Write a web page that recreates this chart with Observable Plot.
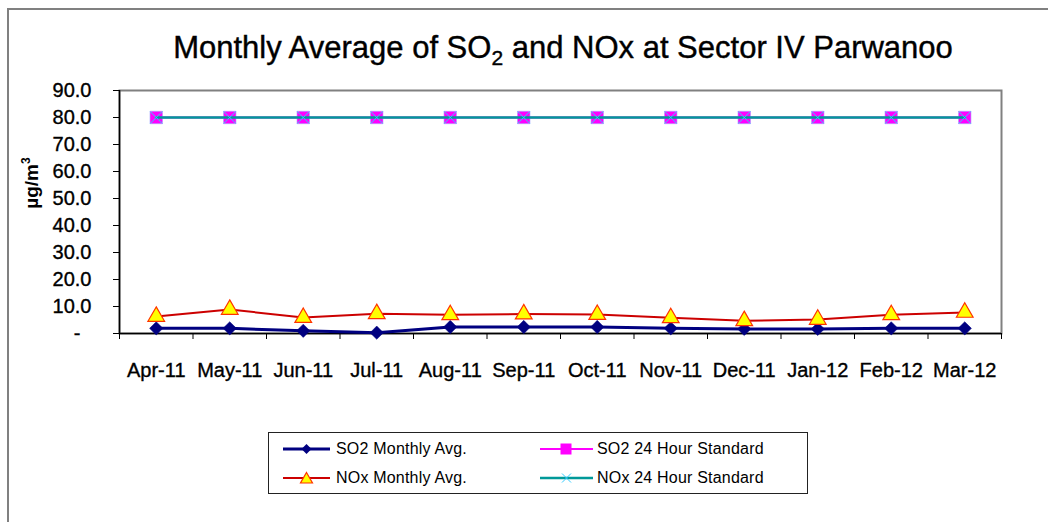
<!DOCTYPE html>
<html><head><meta charset="utf-8">
<script src="https://cdn.jsdelivr.net/npm/d3@7"></script>
<script src="https://cdn.jsdelivr.net/npm/@observablehq/plot@0.6"></script>
<style>
body{margin:0;background:#fff;font-family:"Liberation Sans",Arial,sans-serif;}
#wrap{position:relative;width:1048px;height:522px;overflow:hidden;background:#fff;}
#border{position:absolute;left:7px;top:8px;width:1200px;height:800px;border-left:2px solid #808080;border-top:2px solid #808080;}
#chart{position:absolute;left:0;top:0;}
#chart svg text{stroke:#000;stroke-width:0.35px;}
#title{position:absolute;left:0;top:32px;width:1126px;text-align:center;font-size:31px;line-height:31px;color:#000;white-space:nowrap;-webkit-text-stroke:0.4px #000;}
#title sub{font-size:21px;vertical-align:-7px;line-height:0;}
#ylab{position:absolute;left:-18px;top:172px;width:100px;height:22px;line-height:22px;text-align:center;font-size:19px;font-weight:bold;transform:rotate(-90deg);transform-origin:50% 50%;white-space:nowrap;}
#ylab sup{font-size:12px;line-height:0;vertical-align:8px;}
#legend{position:absolute;left:268px;top:432px;width:538px;height:60px;border:1px solid #222;background:#fff;}
.li{position:absolute;font-size:16px;line-height:20px;white-space:nowrap;color:#000;letter-spacing:0.2px;}
.ls{position:absolute;}
</style>
</head><body>
<div id="wrap">
  <div id="border"></div>
  <div id="chart"></div>
  <div id="title">Monthly Average of SO<sub>2</sub> and NOx at Sector IV Parwanoo</div>
  <div id="ylab">µg/m<sup>3</sup></div>
  <div id="legend"></div>
</div>
<script>
const months = ["Apr-11","May-11","Jun-11","Jul-11","Aug-11","Sep-11","Oct-11","Nov-11","Dec-11","Jan-12","Feb-12","Mar-12"];
const so2Avg = [1.9, 1.9, 1.0, 0.3, 2.4, 2.4, 2.4, 1.9, 1.7, 1.7, 1.9, 1.9];
const noxAvg = [6.3, 8.9, 5.9, 7.3, 6.9, 7.2, 7.0, 5.8, 4.7, 5.2, 6.9, 7.8];
const so2Std = [80, 80, 80, 80, 80, 80, 80, 80, 80, 80, 80, 80];
const noxStd = [80, 80, 80, 80, 80, 80, 80, 80, 80, 80, 80, 80];
const yTicks = [0, 10, 20, 30, 40, 50, 60, 70, 80, 90];
const seriesNames = ["SO2 Monthly Avg.", "NOx Monthly Avg.", "SO2 24 Hour Standard", "NOx 24 Hour Standard"];

const idx = d3.range(months.length);
const rows = idx.map(i => ({i, so2: so2Avg[i], nox: noxAvg[i], so2s: so2Std[i], noxs: noxStd[i]}));
const bounds = d3.range(months.length + 1).map(i => i - 0.5);

const plot = Plot.plot({
  width: 1048, height: 390,
  marginTop: 90, marginBottom: 57, marginLeft: 119, marginRight: 47,
  style: {background: "transparent", color: "#000", fontFamily: "'Liberation Sans', Arial, sans-serif", overflow: "visible"},
  x: {type: "linear", domain: [-0.5, months.length - 0.5]},
  y: {domain: [0, 90]},
  marks: [
    Plot.frame({stroke: "#808080", strokeWidth: 2}),
    Plot.ruleY([0], {stroke: "#000", strokeWidth: 1.5}),
    Plot.ruleX([-0.5], {stroke: "#000", strokeWidth: 1.5}),
    Plot.axisY({ticks: yTicks, tickSize: 6, tickPadding: 22, fontSize: 20, label: null,
      tickFormat: d => d === 0 ? "-\u2007" : d.toFixed(1)}),
    Plot.axisX({ticks: bounds, tickSize: 6, tickFormat: () => "", label: null}),
    Plot.axisX({ticks: idx, tickSize: 0, tickPadding: 29, fontSize: 20, label: null,
      tickFormat: i => months[i]}),
    Plot.line(rows, {x: "i", y: "so2s", stroke: "#ff00ff", strokeWidth: 2}),
    Plot.dot(rows, {x: "i", y: "so2s", symbol: "square", r: 7, fill: "#ff00ff", stroke: "#a0a0ff", strokeWidth: 0.6}),
    Plot.line(rows, {x: "i", y: "noxs", stroke: "#009999", strokeWidth: 2.5}),
    Plot.dot(rows, {x: "i", y: "noxs", symbol: "times", r: 5.5, stroke: "#33ccff", strokeWidth: 1}),
    Plot.line(rows, {x: "i", y: "so2", stroke: "#000080", strokeWidth: 3}),
    Plot.dot(rows, {x: "i", y: "so2", symbol: "diamond2", r: 6, fill: "#000080", stroke: "#000080", strokeWidth: 0.5}),
    Plot.line(rows, {x: "i", y: "nox", stroke: "#cc0000", strokeWidth: 2}),
    Plot.dot(rows, {x: "i", y: "nox", symbol: "triangle", r: 6.2, fill: "#ffff00", stroke: "#ff3300", strokeWidth: 1.2})
  ]
});
document.getElementById("chart").appendChild(plot);

// legend
const sym = {
  0: '<line x1="0" y1="8" x2="47" y2="8" stroke="#000080" stroke-width="3"/><path d="M23.5,3 L28.5,8 L23.5,13 L18.5,8 Z" fill="#000080"/>',
  1: '<line x1="0" y1="8" x2="47" y2="8" stroke="#cc0000" stroke-width="2"/><path d="M23.5,2.5 L29.5,13 L17.5,13 Z" fill="#ffff00" stroke="#ff3300" stroke-width="1.2"/>',
  2: '<line x1="0" y1="8" x2="53" y2="8" stroke="#ff00ff" stroke-width="2"/><rect x="20.5" y="2.5" width="11" height="11" fill="#ff00ff"/>',
  3: '<line x1="0" y1="8" x2="53" y2="8" stroke="#009999" stroke-width="2.5"/><path d="M22,3.5 L31,12.5 M31,3.5 L22,12.5" stroke="#33ccff" stroke-width="1"/>'
};
const pos = [
  {sx: 14, tx: 67, cy: 16, w: 48},
  {sx: 14, tx: 67, cy: 45, w: 48},
  {sx: 271, tx: 328, cy: 16, w: 54},
  {sx: 271, tx: 328, cy: 45, w: 54}
];
const leg = document.getElementById("legend");
seriesNames.forEach((name, k) => {
  const p = pos[k];
  const s = document.createElement("div");
  s.className = "ls";
  s.style.left = p.sx + "px"; s.style.top = (p.cy - 8) + "px";
  s.innerHTML = `<svg width="${p.w}" height="16" style="display:block">${sym[k]}</svg>`;
  leg.appendChild(s);
  const t = document.createElement("div");
  t.className = "li";
  t.style.left = p.tx + "px"; t.style.top = (p.cy - 10) + "px";
  t.textContent = name;
  leg.appendChild(t);
});
</script>
</body></html>
